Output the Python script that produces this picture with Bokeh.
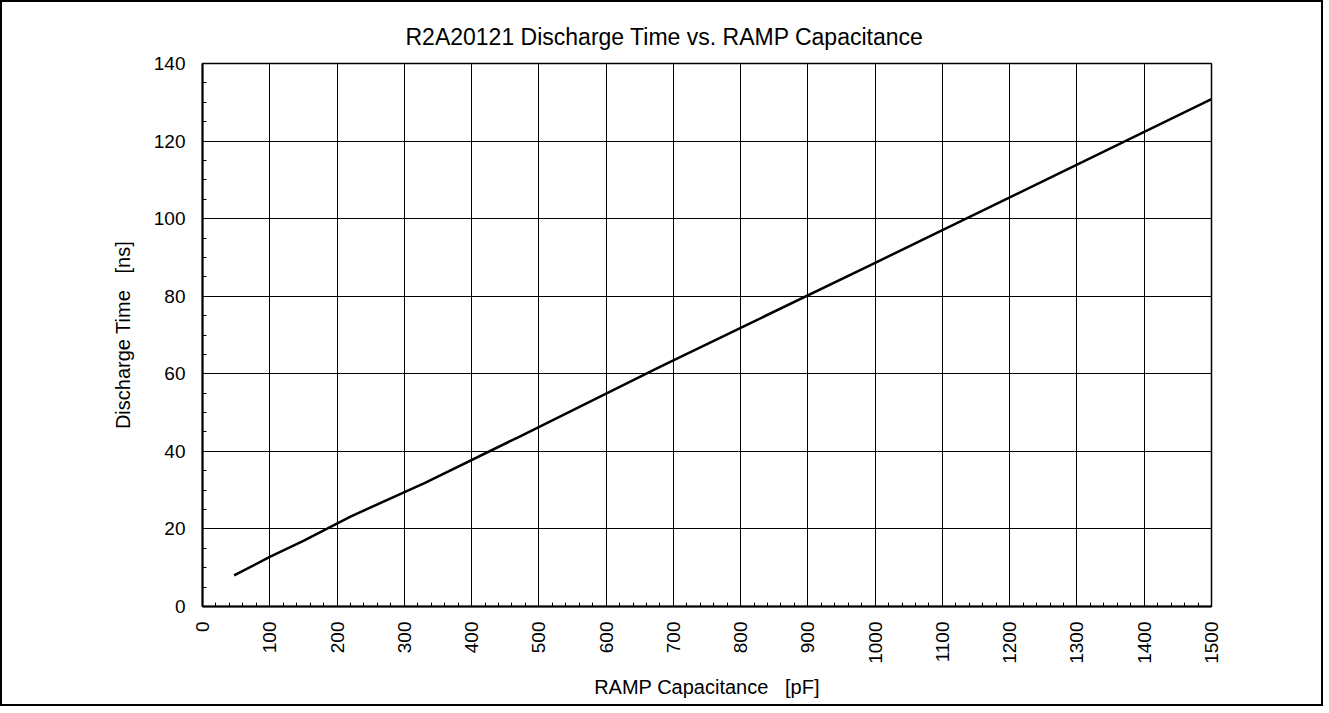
from bokeh.plotting import figure
from bokeh.models import Range1d, SingleIntervalTicker, ColumnDataSource
from bokeh.embed import file_html
from bokeh.resources import INLINE

# Data
capacitance_pf = [47, 100, 150, 220, 330, 470, 680, 1000, 1500]
discharge_ns = [8.0, 12.8, 16.9, 23.2, 31.8, 43.7, 61.8, 88.6, 130.8]

title_text = "R2A20121 Discharge Time vs. RAMP Capacitance"
x_label = "RAMP Capacitance\u00a0\u00a0 [pF]"
y_label = "Discharge Time\u00a0\u00a0 [ns]"

FONT = "Liberation Sans"
W, H = 1323, 706

p = figure(width=W, height=H, output_backend="svg", toolbar_location=None,
           x_range=Range1d(0, 1500), y_range=Range1d(0, 140),
           min_border_left=200, min_border_right=114,
           min_border_top=61, min_border_bottom=102)

p.styles = {"border": "2px solid black", "box-sizing": "border-box"}

src = ColumnDataSource(dict(x=capacitance_pf, y=discharge_ns))
p.line("x", "y", source=src, line_color="black", line_width=2.5)

p.xaxis.ticker = SingleIntervalTicker(interval=100, num_minor_ticks=5)
p.yaxis.ticker = SingleIntervalTicker(interval=20, num_minor_ticks=4)

for ax in (p.xaxis, p.yaxis):
    ax.axis_line_color = "black"
    ax.axis_line_width = 2
    ax.major_tick_line_color = "black"
    ax.major_tick_in = 5
    ax.major_tick_out = 0
    ax.minor_tick_line_color = "black"
    ax.minor_tick_in = 4
    ax.minor_tick_out = 0
    ax.major_label_text_font = FONT
    ax.major_label_text_font_size = "19px"
    ax.major_label_text_color = "black"
    ax.axis_label_text_font = FONT
    ax.axis_label_text_font_size = "20px"
    ax.axis_label_text_font_style = "normal"
    ax.axis_label_text_color = "black"

p.xaxis.major_label_orientation = 1.5707963267948966
p.xaxis.major_label_standoff = 15
p.yaxis.major_label_standoff = 17
p.xaxis.axis_label = x_label
p.yaxis.axis_label = y_label
p.xaxis.axis_label_standoff = 9
p.yaxis.axis_label_standoff = 17

p.xgrid.ticker = p.xaxis.ticker
p.ygrid.ticker = p.yaxis.ticker
p.grid.grid_line_color = "black"
p.grid.grid_line_width = 1
p.grid.grid_line_alpha = 1.0

p.outline_line_color = "black"
p.outline_line_width = 1.5
p.background_fill_color = "white"
p.border_fill_color = "white"

# title: centred on the whole page rather than on the frame
p.title.text = title_text
p.title.align = "left"
p.title.offset = 203
p.title.standoff = 28
p.title.text_font = FONT
p.title.text_font_size = "23px"
p.title.text_font_style = "normal"
p.title.text_color = "black"

open("out.html", "w").write(file_html(p, INLINE))
